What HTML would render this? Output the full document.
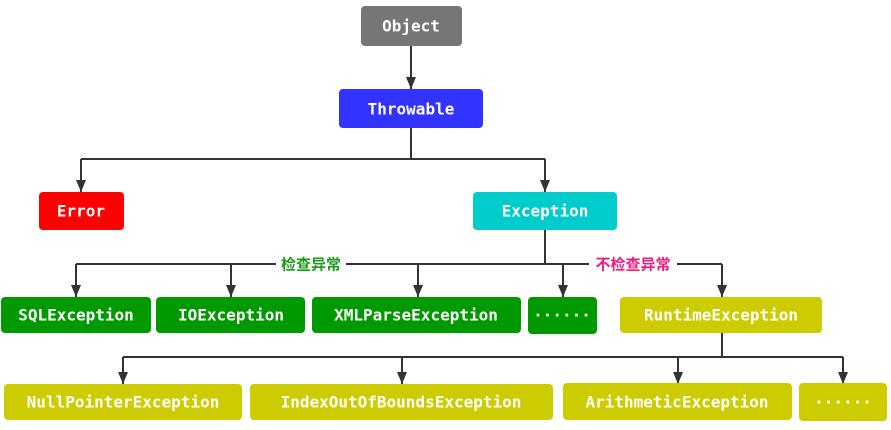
<!DOCTYPE html>
<html><head><meta charset="utf-8"><style>
html,body{margin:0;padding:0;background:#fff;}
svg text{font-family:"DejaVu Sans Mono","Liberation Mono",monospace;font-weight:bold;fill:#fff;font-size:16px;text-anchor:middle;dominant-baseline:central;}
</style></head><body>
<svg width="891" height="425" viewBox="0 0 891 425" xmlns="http://www.w3.org/2000/svg">
<defs><marker id="a" markerWidth="10" markerHeight="12" refX="5" refY="11" orient="auto" markerUnits="userSpaceOnUse"><path d="M0,0 L10,0 L5,12 z" fill="#333" transform="rotate(-90 5 6) rotate(90 5 6)"/></marker></defs>
<g stroke="#333" stroke-width="2" fill="none">
<path d="M411,46 V89"/>
<path d="M411,128 V159 M81,159 H545 M81,159 V192 M545,159 V192"/>
<path d="M545,230 V264 M76,264 H722"/>
<path d="M76,264 V297 M231,264 V297 M418,264 V297 M563,264 V297 M722,264 V297"/>
<path d="M722,333 V357 M123,357 H843"/>
<path d="M123,357 V384 M402,357 V384 M678,357 V384 M843,357 V384"/>
</g>
<g fill="#333">
<path d="M406,77 h10 l-5,12z"/>
<path d="M76,180 h10 l-5,12z"/><path d="M540,180 h10 l-5,12z"/>
<path d="M71,285 h10 l-5,12z"/><path d="M226,285 h10 l-5,12z"/><path d="M413,285 h10 l-5,12z"/><path d="M558,285 h10 l-5,12z"/><path d="M717,285 h10 l-5,12z"/>
<path d="M118,372 h10 l-5,12z"/><path d="M397,372 h10 l-5,12z"/><path d="M673,372 h10 l-5,12z"/><path d="M838,372 h10 l-5,12z"/>
</g>
<rect x="276" y="255" width="70" height="18" fill="#fff"/>
<rect x="589" y="255" width="88" height="18" fill="#fff"/>
<text x="311" y="264" style="fill:#1a9a1a;font-family:'Noto Sans CJK SC',sans-serif;font-size:15px">检查异常</text>
<text x="633" y="264" style="fill:#f0197d;font-family:'Noto Sans CJK SC',sans-serif;font-size:15px">不检查异常</text>
<rect x="361" y="6" width="101" height="40" rx="4" fill="#767676"/><text x="411" y="26">Object</text>
<rect x="339" y="89" width="144" height="39" rx="4" fill="#3333ff"/><text x="411" y="109">Throwable</text>
<rect x="39" y="192" width="85" height="38" rx="4" fill="#ff0000"/><text x="81" y="211">Error</text>
<rect x="473" y="192" width="144" height="38" rx="4" fill="#00cccc"/><text x="545" y="211">Exception</text>
<g fill="#009900">
<rect x="1" y="297" width="150" height="36" rx="4"/><rect x="156" y="297" width="149" height="36" rx="4"/><rect x="312" y="297" width="209" height="36" rx="4"/><rect x="528" y="297" width="69" height="37" rx="4"/>
</g>
<text x="76" y="315">SQLException</text><text x="231" y="315">IOException</text><text x="416" y="315">XMLParseException</text><text x="562" y="315">······</text>
<g fill="#cccc00">
<rect x="620" y="297" width="202" height="36" rx="4"/>
<rect x="4" y="384" width="238" height="36" rx="4"/><rect x="250" y="384" width="303" height="36" rx="4"/><rect x="563" y="383" width="229" height="37" rx="4"/><rect x="799" y="383" width="88" height="38" rx="4"/>
</g>
<text x="721" y="315">RuntimeException</text>
<text x="123" y="402">NullPointerException</text><text x="401" y="402">IndexOutOfBoundsException</text><text x="677" y="402">ArithmeticException</text><text x="843" y="402">······</text>
</svg>
</body></html>
